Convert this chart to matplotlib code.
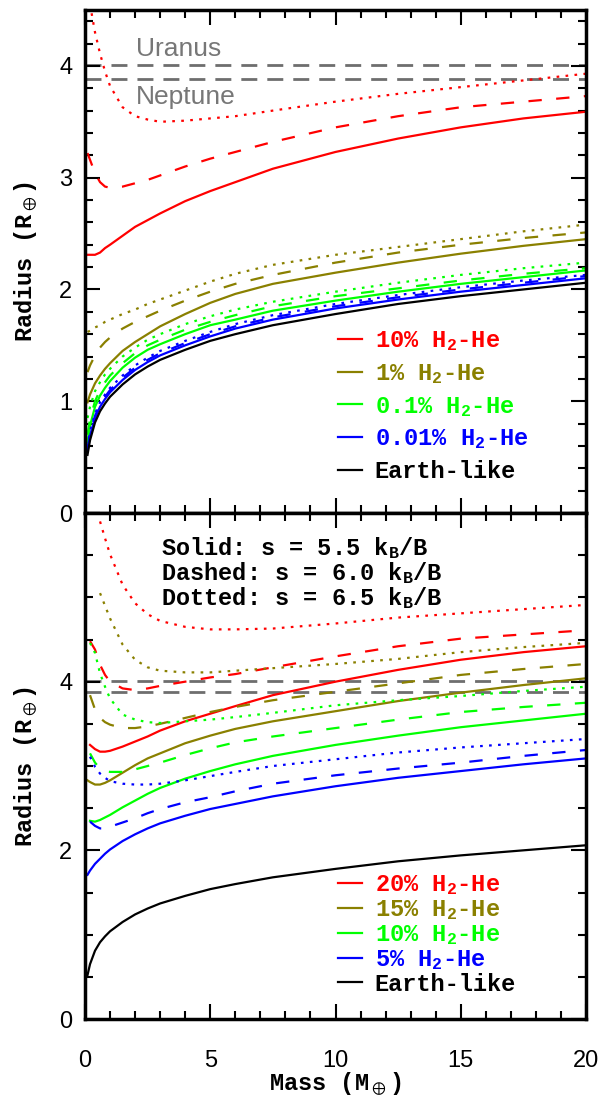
import matplotlib
matplotlib.use("Agg")
import numpy as np
import matplotlib.pyplot as plt
from matplotlib.lines import Line2D
from matplotlib.ticker import MultipleLocator

plt.rcParams['mathtext.default'] = 'regular'

nan = np.nan

# planet mass grid (Earth masses)
mass = [0.1, 0.2, 0.4, 0.6, 0.8, 1, 1.5, 2, 2.5, 3, 4, 5, 6, 7.5, 10, 12.5, 15, 17.5, 20]

earth_like = [0.52, 0.65, 0.81, 0.91, 0.98, 1.04, 1.15, 1.24, 1.31, 1.37, 1.46, 1.54, 1.60, 1.68, 1.78, 1.87, 1.94, 2.00, 2.06]

# top panel: 0.01%, 0.1%, 1%, 10% H2-He  (solid 5.5, dashed 6.0, dotted 6.5 kB/B)
top_001_s55 = [0.55, 0.69, 0.85, 0.95, 1.02, 1.08, 1.19, 1.28, 1.35, 1.41, 1.50, 1.58, 1.65, 1.73, 1.83, 1.91, 1.98, 2.04, 2.10]
top_001_s60 = [0.57, 0.71, 0.87, 0.97, 1.04, 1.10, 1.21, 1.30, 1.37, 1.43, 1.52, 1.60, 1.67, 1.75, 1.85, 1.93, 2.00, 2.06, 2.12]
top_001_s65 = [0.59, 0.73, 0.89, 0.99, 1.06, 1.12, 1.23, 1.32, 1.39, 1.45, 1.54, 1.62, 1.69, 1.77, 1.87, 1.95, 2.02, 2.08, 2.13]

top_01_s55 = [0.63, 0.78, 0.95, 1.05, 1.12, 1.18, 1.30, 1.39, 1.46, 1.51, 1.60, 1.68, 1.73, 1.81, 1.90, 1.98, 2.05, 2.11, 2.17]
top_01_s60 = [0.70, 0.84, 1.00, 1.10, 1.17, 1.23, 1.34, 1.43, 1.50, 1.55, 1.64, 1.71, 1.77, 1.85, 1.94, 2.01, 2.08, 2.14, 2.19]
top_01_s65 = [0.85, 0.95, 1.09, 1.17, 1.24, 1.29, 1.40, 1.48, 1.55, 1.60, 1.69, 1.76, 1.82, 1.89, 1.98, 2.06, 2.13, 2.19, 2.24]

top_1_s55 = [0.99, 1.06, 1.16, 1.23, 1.29, 1.34, 1.45, 1.53, 1.60, 1.67, 1.78, 1.88, 1.96, 2.05, 2.15, 2.24, 2.32, 2.39, 2.45]
top_1_s60 = [1.26, 1.32, 1.41, 1.48, 1.53, 1.57, 1.65, 1.71, 1.76, 1.81, 1.90, 1.98, 2.05, 2.13, 2.24, 2.33, 2.40, 2.46, 2.51]
top_1_s65 = [1.62, 1.63, 1.66, 1.68, 1.71, 1.73, 1.78, 1.82, 1.87, 1.91, 1.99, 2.07, 2.14, 2.22, 2.31, 2.38, 2.45, 2.52, 2.58]

top_10_s55 = [2.31, 2.31, 2.31, 2.33, 2.37, 2.40, 2.48, 2.56, 2.62, 2.68, 2.79, 2.88, 2.96, 3.08, 3.23, 3.35, 3.45, 3.53, 3.59]
top_10_s60 = [3.22, 3.16, 3.04, 2.96, 2.92, 2.91, 2.92, 2.95, 2.98, 3.02, 3.10, 3.17, 3.23, 3.32, 3.45, 3.55, 3.63, 3.68, 3.73]
top_10_s65 = [nan, 4.55, 4.30, 4.11, 3.95, 3.82, 3.63, 3.55, 3.52, 3.50, 3.51, 3.53, 3.55, 3.60, 3.68, 3.75, 3.81, 3.87, 3.93]

# bottom panel: 5%, 10%, 15%, 20% H2-He
bot_5_s55 = [1.71, 1.76, 1.84, 1.90, 1.96, 2.01, 2.11, 2.19, 2.26, 2.32, 2.41, 2.49, 2.55, 2.64, 2.76, 2.86, 2.94, 3.02, 3.09]
bot_5_s60 = [nan, 2.34, 2.29, 2.26, 2.26, 2.28, 2.33, 2.38, 2.44, 2.49, 2.57, 2.63, 2.70, 2.79, 2.89, 2.97, 3.04, 3.12, 3.19]
bot_5_s65 = [nan, 3.11, 2.99, 2.91, 2.86, 2.82, 2.79, 2.78, 2.78, 2.79, 2.83, 2.88, 2.93, 3.00, 3.08, 3.16, 3.22, 3.27, 3.32]

bot_10_s55 = [nan, 2.35, 2.34, 2.36, 2.39, 2.42, 2.51, 2.59, 2.67, 2.74, 2.85, 2.94, 3.02, 3.12, 3.25, 3.36, 3.46, 3.54, 3.62]
bot_10_s60 = [nan, 3.15, 3.04, 2.97, 2.94, 2.93, 2.93, 2.96, 3.00, 3.04, 3.13, 3.21, 3.28, 3.35, 3.45, 3.55, 3.64, 3.70, 3.75]
bot_10_s65 = [nan, 4.46, 4.34, 4.10, 3.94, 3.80, 3.61, 3.55, 3.52, 3.51, 3.53, 3.55, 3.58, 3.63, 3.72, 3.78, 3.83, 3.89, 3.94]

bot_15_s55 = [2.83, 2.81, 2.78, 2.78, 2.80, 2.83, 2.92, 3.01, 3.09, 3.15, 3.27, 3.36, 3.44, 3.53, 3.65, 3.77, 3.87, 3.96, 4.04]
bot_15_s60 = [nan, 3.84, 3.67, 3.57, 3.52, 3.49, 3.45, 3.45, 3.47, 3.50, 3.57, 3.64, 3.70, 3.78, 3.88, 3.98, 4.08, 4.15, 4.21]
bot_15_s65 = [nan, nan, nan, 5.05, 4.90, 4.75, 4.44, 4.26, 4.17, 4.13, 4.11, 4.11, 4.13, 4.16, 4.21, 4.27, 4.35, 4.41, 4.46]

bot_20_s55 = [nan, 3.25, 3.20, 3.17, 3.17, 3.18, 3.23, 3.29, 3.35, 3.42, 3.53, 3.62, 3.71, 3.84, 4.00, 4.14, 4.26, 4.35, 4.42]
bot_20_s60 = [nan, 4.48, 4.38, 4.20, 4.08, 4.00, 3.92, 3.90, 3.92, 3.95, 4.00, 4.05, 4.09, 4.17, 4.30, 4.42, 4.51, 4.56, 4.61]
bot_20_s65 = [nan, nan, nan, 5.90, 5.70, 5.51, 5.15, 4.93, 4.80, 4.72, 4.65, 4.62, 4.62, 4.63, 4.69, 4.76, 4.81, 4.86, 4.91]

planet_names = ['Uranus', 'Neptune']
planet_radii = [4.007, 3.883]

top_labels = ['10% H$_2$-He', '1% H$_2$-He', '0.1% H$_2$-He', '0.01% H$_2$-He', 'Earth-like']
bot_labels = ['20% H$_2$-He', '15% H$_2$-He', '10% H$_2$-He', '5% H$_2$-He', 'Earth-like']

RED, OLIVE, GREEN, BLUE = '#ff0000', '#8a8000', '#00ff00', '#0000ff'
LW = 1.6
styles = ['-', (0, (6, 6.5)), (0, (1.2, 2.85))]
hfont = 'Liberation Mono'
tfont = 'Liberation Sans'
FS = 17

fig = plt.figure(figsize=(6.04, 10.99), dpi=100)
ax1 = fig.add_axes([85/604, 1 - 513/1099, 501/604, 503/1099])
ax2 = fig.add_axes([85/604, 1 - 1019/1099, 501/604, 506/1099])


def draw_set(ax, curves, color):
    for ys, ls in zip(curves, styles):
        ax.plot(mass, ys, color=color, lw=LW, linestyle=ls)


for ax in (ax1, ax2):
    for r in planet_radii:
        ax.axhline(r, color='#6e6e6e', lw=2.0, linestyle=(0, (5.75, 3.6)), zorder=1)

draw_set(ax1, [top_10_s55, top_10_s60, top_10_s65], RED)
draw_set(ax1, [top_1_s55, top_1_s60, top_1_s65], OLIVE)
draw_set(ax1, [top_01_s55, top_01_s60, top_01_s65], GREEN)
draw_set(ax1, [top_001_s55, top_001_s60, top_001_s65], BLUE)
ax1.plot(mass, earth_like, color='k', lw=LW)

draw_set(ax2, [bot_20_s55, bot_20_s60, bot_20_s65], RED)
draw_set(ax2, [bot_15_s55, bot_15_s60, bot_15_s65], OLIVE)
draw_set(ax2, [bot_10_s55, bot_10_s60, bot_10_s65], GREEN)
draw_set(ax2, [bot_5_s55, bot_5_s60, bot_5_s65], BLUE)
ax2.plot(mass, earth_like, color='k', lw=LW)

# planet labels
ax1.text(2.05, planet_radii[0] + 0.04, planet_names[0], color='#777777', fontsize=19,
         family=tfont, va='bottom', ha='left')
ax1.text(2.05, planet_radii[1] - 0.05, planet_names[1], color='#777777', fontsize=19,
         family=tfont, va='top', ha='left')

ax2.text(0.152, 0.931, 'Solid: s = 5.5 k$_B$/B', transform=ax2.transAxes, fontsize=FS,
         family=hfont, weight='bold', va='center')
ax2.text(0.152, 0.881, 'Dashed: s = 6.0 k$_B$/B', transform=ax2.transAxes, fontsize=FS,
         family=hfont, weight='bold', va='center')
ax2.text(0.152, 0.832, 'Dotted: s = 6.5 k$_B$/B', transform=ax2.transAxes, fontsize=FS,
         family=hfont, weight='bold', va='center')

cols = [RED, OLIVE, GREEN, BLUE, 'k']
for ax, labels, spacing, anchor in ((ax1, top_labels, 0.38, (0.505, 0.366)),
                                     (ax2, bot_labels, 0.04, (0.505, 0.288))):
    handles = [Line2D([], [], color=c, lw=LW) for c in cols]
    ax.legend(handles, labels, loc='upper left', bbox_to_anchor=anchor, frameon=False,
              handlelength=1.0, handletextpad=0.55, labelspacing=spacing, borderpad=0,
              borderaxespad=0, labelcolor='linecolor',
              prop={'family': hfont, 'weight': 'bold', 'size': FS})

for ax in (ax1, ax2):
    ax.set_xlim(0, 20)
    ax.xaxis.set_major_locator(MultipleLocator(5))
    ax.xaxis.set_minor_locator(MultipleLocator(1))
    ax.tick_params(which='both', direction='in', top=True, right=True, width=1.5,
                   labelsize=FS, pad=9)
    ax.tick_params(which='major', length=11)
    ax.tick_params(which='minor', length=6)
    for sp in ax.spines.values():
        sp.set_linewidth(2.5)
    for lab in ax.get_xticklabels() + ax.get_yticklabels():
        lab.set_family(tfont)
    ax.set_ylabel(r'Radius (R$_\oplus$)', family=hfont, weight='bold', fontsize=FS, labelpad=14)

ax1.set_ylim(0, 4.5)
ax1.yaxis.set_major_locator(MultipleLocator(1))
ax1.yaxis.set_minor_locator(MultipleLocator(0.2))
ax1.tick_params(axis='x', labelbottom=False)

ax2.set_ylim(0, 6)
ax2.set_yticks([0, 2, 4, 6])
ax2.set_yticklabels(['0', '2', '4', ''])
ax2.yaxis.set_minor_locator(MultipleLocator(0.5))
ax2.tick_params(axis='x', pad=22)
for lab in ax2.get_xticklabels() + ax2.get_yticklabels():
    lab.set_family(tfont)
ax2.set_xlabel(r'Mass (M$_\oplus$)', family=hfont, weight='bold', fontsize=FS, labelpad=-1)

fig.savefig('out.png', dpi=100)
